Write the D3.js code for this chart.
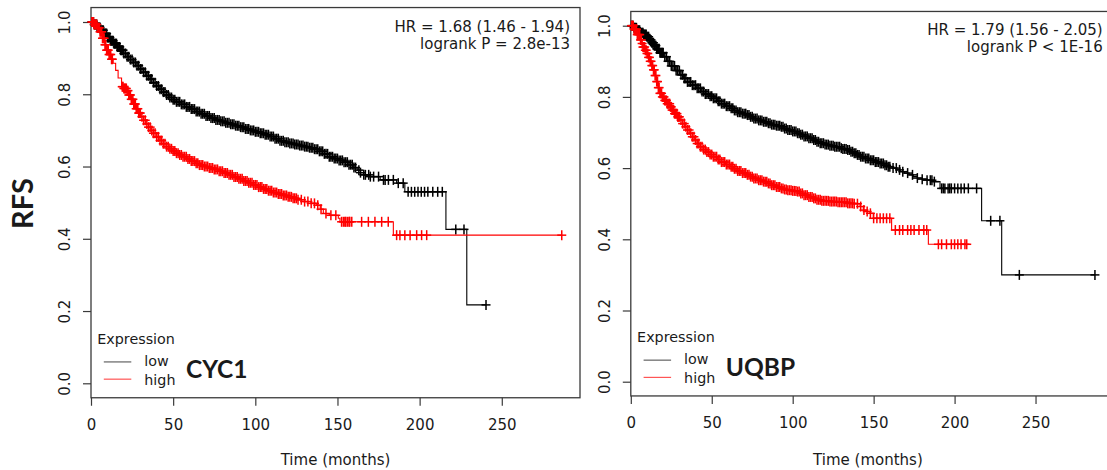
<!DOCTYPE html>
<html>
<head>
<meta charset="utf-8">
<script src="https://cdn.jsdelivr.net/npm/d3@7"></script>
<style>
  html, body { margin: 0; padding: 0; background: #fff; }
  svg { display: block; }
  text { font-family: "DejaVu Sans", sans-serif; fill: #1a1a1a; }
</style>
</head>
<body>
<svg id="chart" width="1107" height="470"></svg>
<script>
// ---------------- DATA ----------------
const xTicks = [0, 50, 100, 150, 200, 250];
const yTicks = [0, 0.2, 0.4, 0.6, 0.8, 1.0];
const groups = ["low", "high"];
const genes = ["CYC1", "UQBP"];
const hrTexts = [
  ["HR = 1.68 (1.46 - 1.94)", "logrank P = 2.8e-13"],
  ["HR = 1.79 (1.56 - 2.05)", "logrank P < 1E-16"]
];

// CYC1 – low expression: [time, survival] step points
const cyc1Low = [[0,1],[2,0.993],[4,0.985],[6,0.977],[8,0.968],[10,0.957],[12,0.948],[14,0.94],[16,0.931],[18,0.922],[20,0.913],[22,0.904],[24,0.896],[26,0.888],[28,0.879],[30,0.87],[32,0.861],[34,0.851],[36,0.842],[38,0.832],[40,0.823],[42,0.814],[44,0.806],[46,0.798],[48,0.791],[50,0.785],[52,0.779],[55,0.772],[58,0.765],[61,0.759],[64,0.752],[67,0.746],[70,0.74],[73,0.734],[76,0.729],[79,0.725],[82,0.721],[85,0.717],[88,0.713],[91,0.709],[94,0.704],[97,0.7],[100,0.696],[103,0.692],[106,0.688],[109,0.683],[112,0.677],[115,0.671],[118,0.667],[121,0.664],[124,0.661],[127,0.658],[130,0.655],[133,0.652],[136,0.648],[139,0.642],[142,0.635],[145,0.627],[148,0.622],[151,0.617],[154,0.612],[157,0.605],[160,0.597],[162,0.59],[164,0.583],[166,0.577],[170,0.572],[176,0.563],[186,0.554],[191,0.53],[216,0.426],[228.7,0.217]];
const cyc1LowEnd = 240.4;
const cyc1LowCens = [0.5,1,1.5,2,2.5,3,3.5,4,4.5,5,5.5,6,6.5,7,7.5,8,8.5,9,9.5,10,10.5,11,11.5,12,12.5,13,13.5,14,14.5,15,15.5,16,16.5,17,17.5,18,18.5,19,19.5,20,21,22,23,24,25,26,27,28,29,30,31,32,33,34,35,36,37,38,39,40,41,42,43,44,45,46,47,48,49,50,51,52,53,54,55,56,57,58,59,60,61,62,63,64,65,66,67,68,69,70,71,72,73,74,75,76,77,78,79,80,81,82,83,84,85,86,87,88,89,90,91,92,93,94,95,96,97,98,99,100,101,102,103,104,105,106,107,108,109,110,111,112,113,114,115,116,117,118,119,120,121,122,123,124,125,126,127,128,129,130,131,132,133,134,135,136,137,138,139,140,141,142,143,144,145,146,147,148,149,150,151,152,153,154,155,156,157,158,159,160,161,163,164,166,167,169,170,172,175,178,179,181,184,187,190,193,195,197,199,201,203,205,208,211,213.8,222,227,240.4];

// CYC1 – high expression
const cyc1High = [[0,1],[2,0.993],[4,0.984],[5.5,0.973],[7,0.955],[8.5,0.937],[9.5,0.922],[11,0.91],[12.5,0.897],[13.5,0.886],[15,0.866],[16.5,0.845],[18.6,0.821],[20,0.816],[21.7,0.81],[23,0.798],[24.5,0.786],[26,0.773],[27.5,0.76],[29,0.748],[30.5,0.738],[32,0.728],[33.5,0.718],[35,0.709],[36.5,0.7],[38,0.692],[40,0.682],[42,0.672],[44,0.663],[46,0.655],[48,0.649],[50,0.643],[52,0.637],[54,0.632],[56,0.627],[58.5,0.621],[61,0.615],[63.5,0.609],[66,0.604],[69,0.6],[72,0.596],[75,0.592],[78,0.587],[81,0.582],[84,0.577],[87,0.571],[90,0.566],[93,0.56],[96,0.555],[99,0.549],[102,0.543],[105,0.538],[108,0.533],[111,0.528],[114,0.524],[117,0.52],[120,0.516],[123,0.512],[126,0.508],[130,0.503],[134,0.498],[137.4,0.493],[139.5,0.482],[141.4,0.47],[145,0.465],[150.5,0.457],[151.5,0.447],[184,0.41]];
const cyc1HighEnd = 286.5;
const cyc1HighCens = [0.5,1,1.5,2,2.5,3,3.5,4,4.5,5,5.5,6,6.5,7,7.5,8,8.5,9,9.5,10,10.5,11,11.5,12,12.5,13,19,19.5,20,20.5,21,21.5,22,22.5,23,23.5,24,24.5,25,25.5,26,26.5,27,27.5,28,28.5,29,29.5,30,31,32,33,34,35,36,37,38,39,40,41,42,43,44,45,46,47,48,49,50,51,52,53,54,55,56,57,58,59,60,61,62,63,64,65,66,67,68,69,70,71,72,73,74,75,76,77,78,79,80,81,82,83,84,85,86,87,88,89,90,91,92,93,94,95,96,97,98,99,100,101,102,103,104,105,106,107,108,109,110,111,112,113,114,115,116,117,118,119,120,121,122,123,124,125,126,128,130,132,134,136,138,140,143,146,149,152.5,153.6,154.5,155,156,157,157.5,158.7,164.7,168.8,172.8,176.9,180.9,186,188,191,194.2,198.2,201.2,204.3,286.5];

// UQBP – low expression
const uqbpLow = [[0,1],[2,0.994],[4,0.987],[6,0.98],[8,0.975],[9.8,0.969],[11.5,0.96],[13,0.952],[14.5,0.944],[16,0.935],[18,0.924],[20.1,0.913],[22.5,0.9],[25,0.887],[27.5,0.874],[30.4,0.862],[32.5,0.852],[35,0.842],[38,0.833],[40.7,0.824],[43.5,0.815],[46,0.808],[48.5,0.802],[51,0.796],[53.5,0.788],[56,0.781],[58.5,0.774],[61.3,0.768],[63.5,0.762],[66,0.757],[69,0.753],[71.6,0.749],[74,0.744],[76,0.739],[79,0.734],[81.8,0.73],[84.5,0.726],[87,0.722],[89.5,0.719],[92.1,0.716],[94.5,0.711],[97,0.707],[99.5,0.703],[102.4,0.698],[104.5,0.694],[107,0.689],[110,0.684],[112.7,0.679],[115,0.674],[117,0.67],[120,0.666],[123,0.663],[126,0.66],[129.2,0.656],[131,0.654],[133.3,0.651],[136,0.646],[138,0.642],[140,0.637],[141.6,0.632],[145,0.627],[148,0.622],[151,0.617],[153.9,0.613],[156.5,0.608],[159,0.604],[161.5,0.6],[164.2,0.595],[166.5,0.59],[169,0.586],[172,0.581],[174.5,0.576],[177,0.572],[180,0.569],[183,0.566],[186.8,0.562],[191,0.543],[216.7,0.452],[229.1,0.3]];
const uqbpLowEnd = 286.7;
const uqbpLowCens = [0.5,1,1.5,2,2.5,3,3.5,4,4.5,5,5.5,6,6.5,7,7.5,8,8.5,9,9.5,10,10.5,11,11.5,12,12.5,13,13.5,14,14.5,15,15.5,16,16.5,17,17.5,18,18.5,19,19.5,20,21,22,23,24,25,26,27,28,29,30,31,32,33,34,35,36,37,38,39,40,41,42,43,44,45,46,47,48,49,50,51,52,53,54,55,56,57,58,59,60,61,62,63,64,65,66,67,68,69,70,71,72,73,74,75,76,77,78,79,80,81,82,83,84,85,86,87,88,89,90,91,92,93,94,95,96,97,98,99,100,101,102,103,104,105,106,107,108,109,110,111,112,113,114,115,116,117,118,119,120,121,122,123,124,125,126,127,128,129,130,131,132,133,134,135,136,137,138,139,140,141,142,143,144,145,146,147,148,149,150,151,152,153,154,155,156,157,158,159,160,162,164,166,168,171,174,177,180,183,185,186,187.5,192,193,194,196,197,198,200,202,204,206,208.5,213.6,222.3,228,240,286.7];

// UQBP – high expression
const uqbpHigh = [[0,1],[2,0.99],[4,0.975],[5.7,0.96],[6.7,0.95],[7.5,0.94],[8.7,0.931],[9.8,0.922],[11,0.911],[12,0.9],[13,0.888],[13.9,0.876],[15,0.86],[16,0.843],[17,0.826],[18,0.81],[19.5,0.8],[21,0.79],[22.5,0.781],[24.2,0.772],[25.5,0.763],[27,0.753],[28.7,0.744],[30.4,0.735],[32,0.725],[33.5,0.716],[35,0.707],[36.6,0.698],[38,0.688],[39.5,0.679],[41,0.669],[42.7,0.66],[45,0.652],[47,0.645],[49,0.638],[51,0.632],[53.5,0.624],[56,0.617],[58.5,0.61],[61.3,0.604],[63.5,0.598],[66,0.592],[69,0.586],[71.6,0.581],[74,0.576],[76,0.571],[79,0.566],[81.8,0.562],[84.5,0.557],[87,0.552],[89.5,0.547],[92.1,0.543],[94.5,0.54],[97,0.538],[99.5,0.536],[102.4,0.534],[104.5,0.529],[107,0.524],[110,0.519],[112.7,0.515],[115,0.511],[118,0.508],[123,0.506],[128,0.504],[133.3,0.501],[137.4,0.5],[141.6,0.492],[143.6,0.482],[145.5,0.478],[147.7,0.473],[149.8,0.459],[161.1,0.426],[183.8,0.386]];
const uqbpHighEnd = 207.5;
const uqbpHighCens = [0.5,1,1.5,2,2.5,3,3.5,4,4.5,5,5.5,6,6.5,7,7.5,8,8.5,9,9.5,10,10.5,11,11.5,12,12.5,13,13.5,14,14.5,15,15.5,16,16.5,17,17.5,18,18.5,19,19.5,20,20.5,21,21.5,22,22.5,23,23.5,24,24.5,25,25.5,26,26.5,27,27.5,28,28.5,29,29.5,30,31,32,33,34,35,36,37,38,39,40,41,42,43,44,45,46,47,48,49,50,51,52,53,54,55,56,57,58,59,60,61,62,63,64,65,66,67,68,69,70,71,72,73,74,75,76,77,78,79,80,81,82,83,84,85,86,87,88,89,90,91,92,93,94,95,96,97,98,99,100,101,102,103,104,105,106,107,108,109,110,111,112,113,114,115,116,117,118,119,120,121,122,123,124,125,126,127,128,129,130,131,132,133,134,135,136,137,138,140,142,144,146,148,150,152,154,156,158,160,163.4,166,168,171,173,175,178,181,182.8,190,192,195,198,200,202,204,206.4,207.5];

// ---------------- LAYOUT ----------------
const panels = [
  { gene: genes[0], hr: hrTexts[0], x0: 91, x1: 580, tMax: 297.6, yZero: 383.3, yOne: 22,
    series: [ { curve: cyc1Low, end: cyc1LowEnd, cens: cyc1LowCens, color: "#000" },
              { curve: cyc1High, end: cyc1HighEnd, cens: cyc1HighCens, color: "#ff0000" } ],
    hrX: 570, hrY: [31.7, 49.3] },
  { gene: genes[1], hr: hrTexts[1], x0: 630.8, x1: 1110, tMax: 296, yZero: 381.7, yOne: 25.7,
    series: [ { curve: uqbpLow, end: uqbpLowEnd, cens: uqbpLowCens, color: "#000" },
              { curve: uqbpHigh, end: uqbpHighEnd, cens: uqbpHighCens, color: "#ff0000" } ],
    hrX: 1102.7, hrY: [35, 52.3] }
];

const svg = d3.select("#chart");

panels.forEach(p => {
  const x = d3.scaleLinear().domain([0, p.tMax]).range([p.x0, p.x1]);
  const y = d3.scaleLinear().domain([0, 1]).range([p.yZero, p.yOne]);
  const boxTop = y(1.04), boxBot = y(-0.04);
  const g = svg.append("g");

  // box
  g.append("rect")
    .attr("x", p.x0).attr("y", boxTop)
    .attr("width", p.x1 - p.x0).attr("height", boxBot - boxTop)
    .attr("fill", "none").attr("stroke", "#3a3a3a").attr("stroke-width", 1.3);

  // x axis
  const xa = g.append("g").attr("transform", `translate(0,${boxBot})`)
    .call(d3.axisBottom(x).tickValues(xTicks).tickSize(8).tickSizeOuter(0).tickFormat(d3.format("d")));
  xa.select(".domain").remove();
  xa.selectAll(".tick line").attr("stroke", "#3a3a3a").attr("stroke-width", 1.2);
  xa.selectAll(".tick text").attr("y", 32).attr("dy", null)
    .style("font-family", "DejaVu Sans").style("font-size", "15px").attr("fill", "#1a1a1a");

  // y axis
  const ya = g.append("g").attr("transform", `translate(${p.x0},0)`)
    .call(d3.axisLeft(y).tickValues(yTicks).tickSize(8).tickSizeOuter(0).tickFormat(d3.format(".1f")));
  ya.select(".domain").remove();
  ya.selectAll(".tick line").attr("stroke", "#3a3a3a").attr("stroke-width", 1.2);
  ya.selectAll(".tick text").attr("x", null).attr("dy", null)
    .attr("text-anchor", "middle")
    .attr("transform", "translate(-21,0) rotate(-90)")
    .style("font-family", "DejaVu Sans").style("font-size", "15px").attr("fill", "#1a1a1a");

  // x title
  g.append("text").attr("x", (p.x0 + Math.min(p.x1, 1105)) / 2).attr("y", 465)
    .attr("text-anchor", "middle").style("font-size", "15px").text("Time (months)");

  // curves
  const line = d3.line().x(d => x(d[0])).y(d => y(d[1])).curve(d3.curveStepAfter);
  const bis = d3.bisector(d => d[0]).right;
  p.series.forEach(s => {
    const pts = s.curve.concat([[s.end, s.curve[s.curve.length - 1][1]]]);
    g.append("path").attr("d", line(pts)).attr("fill", "none")
      .attr("stroke", s.color).attr("stroke-width", 1.1);
    const survAt = t => s.curve[Math.max(0, bis(s.curve, t) - 1)][1];
    const cg = g.append("g").attr("stroke", s.color).attr("stroke-width", 1.5);
    s.cens.forEach(t => {
      const cx = x(t), cy = y(survAt(t));
      cg.append("line").attr("x1", cx - 4.5).attr("x2", cx + 4.5).attr("y1", cy).attr("y2", cy);
      cg.append("line").attr("x1", cx).attr("x2", cx).attr("y1", cy - 5).attr("y2", cy + 5);
    });
  });

  // HR text
  p.hr.forEach((t, i) => {
    g.append("text").attr("x", p.hrX).attr("y", p.hrY[i]).attr("text-anchor", "end")
      .style("font-size", "15px").text(t);
  });

  // legend
  const lg = g.append("g").attr("transform", `translate(${p.x0},${boxBot})`);
  lg.append("text").attr("x", 6.3).attr("y", -54).style("font-size", "14.3px").text("Expression");
  const lys = [-35.8, -18.6], tys = [-31.8, -13.2];
  groups.forEach((gr, i) => {
    lg.append("line").attr("x1", 12.8).attr("x2", 40.3).attr("y1", lys[i]).attr("y2", lys[i])
      .attr("stroke", p.series[i].color === "#000" ? "#444" : "#ff3333").attr("stroke-width", 1);
    lg.append("text").attr("x", 53.3).attr("y", tys[i]).style("font-size", "14.3px").text(gr);
  });
  lg.append("text").attr("x", 95).attr("y", -20)
    .style("font-family", "Lato, sans-serif").style("font-weight", "700").style("font-size", "24.5px")
    .attr("fill", "#000").text(p.gene);
});

// RFS label
svg.append("text").attr("transform", "translate(33.3,203.5) rotate(-90)")
  .attr("text-anchor", "middle")
  .style("font-family", "Lato, sans-serif").style("font-weight", "700").style("font-size", "29px")
  .attr("fill", "#000").text("RFS");
</script>
</body>
</html>
